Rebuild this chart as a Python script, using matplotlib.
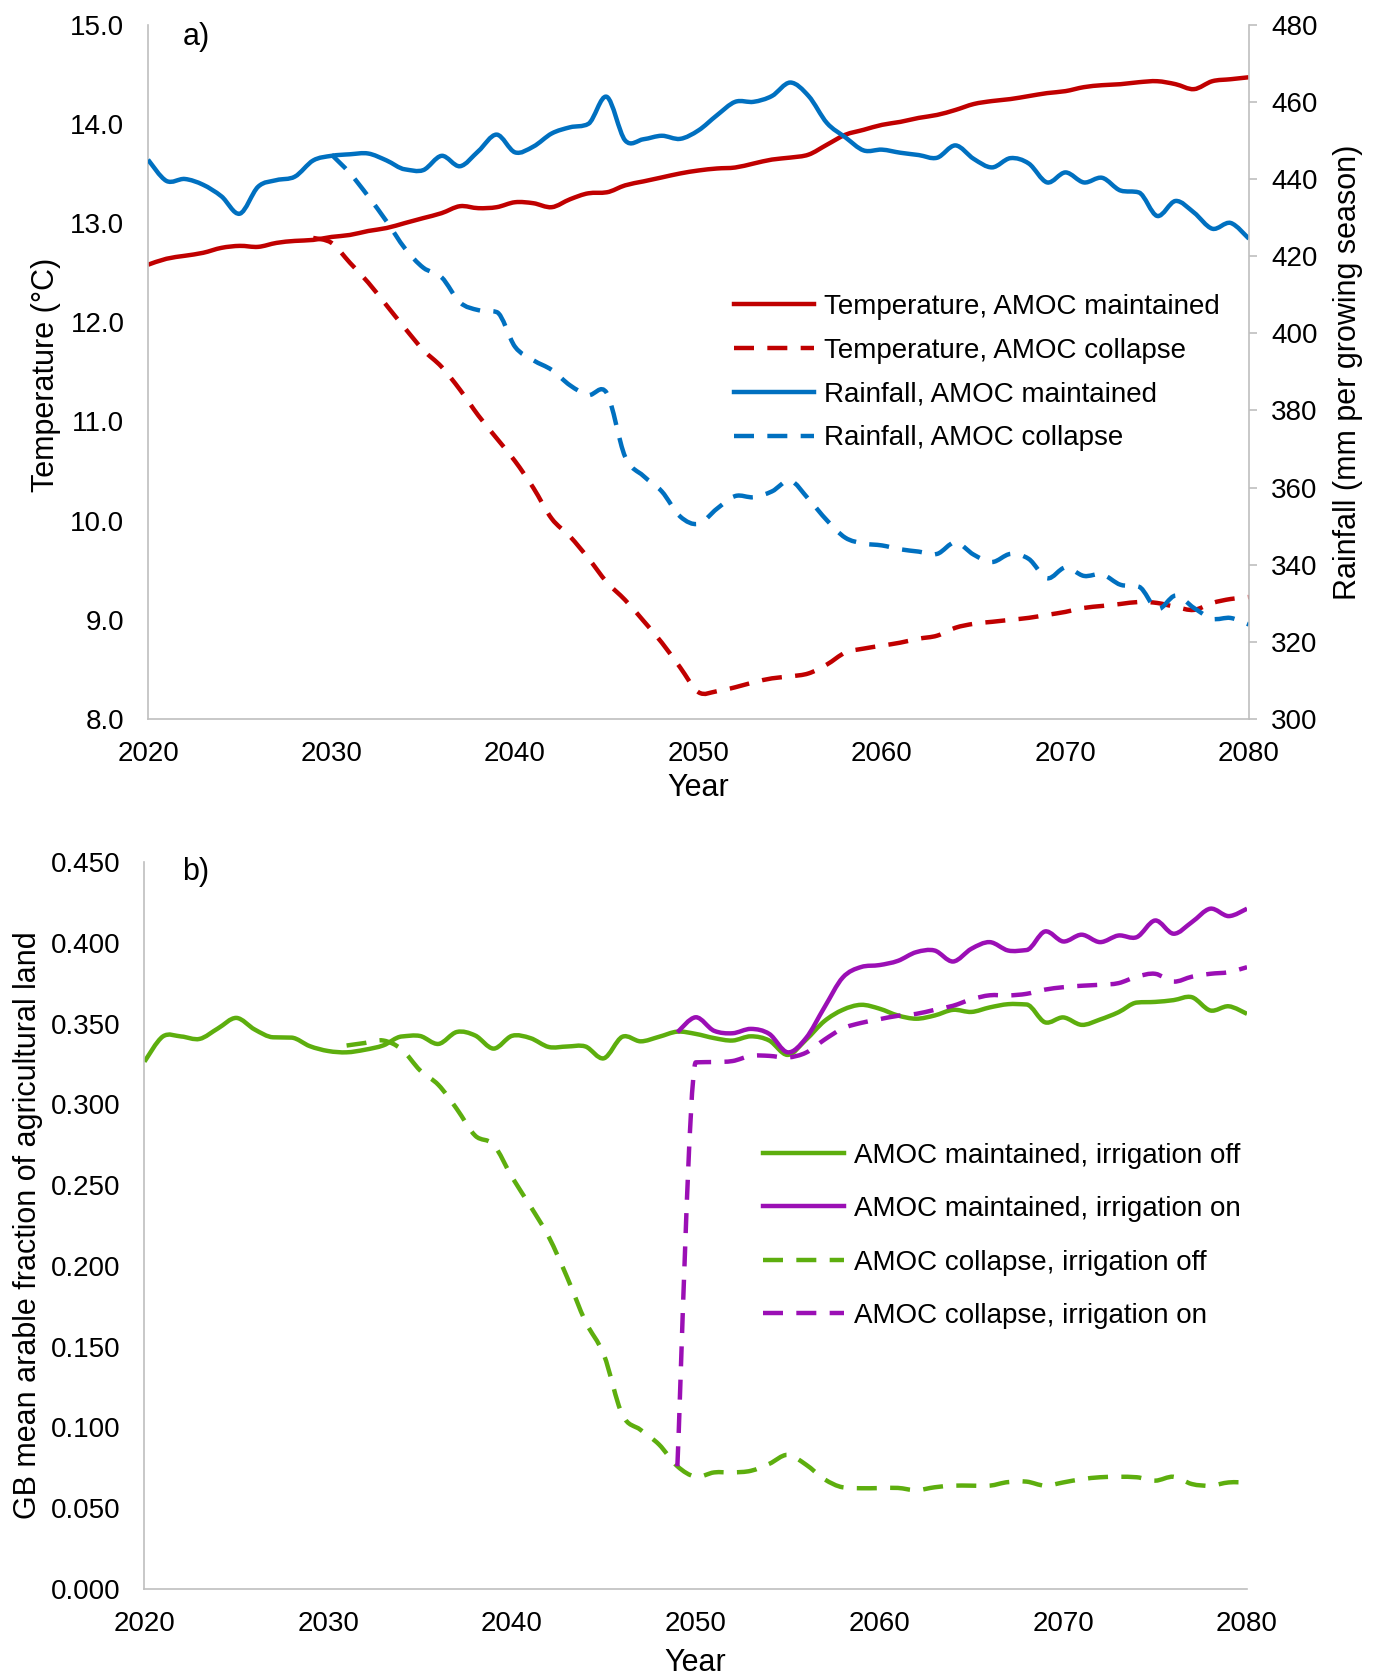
import matplotlib
matplotlib.use("Agg")
import matplotlib.pyplot as plt
import numpy as np
from matplotlib.lines import Line2D
from matplotlib.patches import PathPatch
from matplotlib.path import Path

plt.rcParams["font.family"] = ["Liberation Sans", "DejaVu Sans"]
plt.rcParams["font.size"] = 20

RED = "#C00000"
BLUE = "#0070C0"
GREEN = "#5DAE0E"
PURPLE = "#9B0FB5"
GREY = "#BFBFBF"
LW = 3.2
DASH = (4.5, 3)
LABEL_SIZE = 22

# panel a: temperature (degC) and growing-season rainfall (mm)
years_full = list(range(2020, 2081))
temp_maintained = [
    12.58, 12.64, 12.67, 12.70, 12.75, 12.77, 12.76, 12.80, 12.82, 12.83,
    12.86, 12.88, 12.92, 12.95, 13.00, 13.05, 13.10, 13.17, 13.15, 13.16,
    13.21, 13.20, 13.16, 13.24, 13.30, 13.31, 13.38, 13.42, 13.46, 13.50,
    13.53, 13.55, 13.56, 13.60, 13.64, 13.66, 13.69, 13.79, 13.89, 13.94,
    13.99, 14.02, 14.06, 14.09, 14.14, 14.20, 14.23, 14.25, 14.28, 14.31,
    14.33, 14.37, 14.39, 14.40, 14.42, 14.43, 14.40, 14.35, 14.43, 14.45,
    14.47,
]
years_temp_collapse = list(range(2029, 2081))
temp_collapse = [
    12.85, 12.80, 12.60, 12.40, 12.17, 11.94, 11.72, 11.55, 11.32, 11.06,
    10.83, 10.60, 10.33, 10.02, 9.84, 9.62, 9.38, 9.20, 8.99, 8.77,
    8.52, 8.27, 8.28, 8.32, 8.37, 8.41, 8.43, 8.46, 8.55, 8.67,
    8.71, 8.74, 8.77, 8.81, 8.84, 8.92, 8.96, 8.98, 9.00, 9.02,
    9.05, 9.08, 9.12, 9.14, 9.16, 9.18, 9.17, 9.13, 9.10, 9.17,
    9.21, 9.23,
]
rain_maintained = [
    445.0, 439.5, 440.0, 438.5, 435.5, 431.0, 438.0, 439.7, 440.6, 444.8,
    446.0, 446.4, 446.6, 444.8, 442.5, 442.3, 446.0, 443.3, 447.2, 451.5,
    446.9, 448.4, 451.8, 453.4, 454.3, 461.3, 450.0, 450.3, 451.2, 450.4,
    452.6, 456.5, 460.0, 460.0, 461.5, 465.0, 461.5, 454.5, 450.8, 447.4,
    447.6, 446.8, 446.2, 445.5, 448.7, 445.2, 443.0, 445.4, 444.0, 439.1,
    441.7, 439.1, 440.3, 437.0, 436.5, 430.4, 434.3, 431.3, 427.1, 428.6,
    424.5,
]
years_rain_collapse = list(range(2030, 2081))
rain_collapse = [
    446.3, 441.5, 435.5, 429.0, 422.0, 417.0, 414.5, 408.0, 406.0, 405.5,
    396.5, 393.0, 390.5, 386.5, 384.0, 384.5, 368.0, 363.0, 359.0, 352.5,
    350.6, 354.5, 357.8, 357.5, 359.0, 361.8, 357.0, 351.5, 347.0, 345.5,
    345.0, 344.0, 343.4, 342.8, 345.8, 342.6, 340.7, 342.8, 341.5, 336.5,
    339.3, 337.1, 337.5, 334.8, 334.3, 328.5, 332.0, 328.8, 326.0, 326.2,
    324.5,
]

# panel b: GB mean arable fraction of agricultural land
arable_maint_off = [
    0.3264, 0.3420, 0.3420, 0.3405, 0.3470, 0.3535, 0.3463, 0.3415, 0.3413, 0.3360,
    0.3330, 0.3322, 0.3338, 0.3365, 0.3420, 0.3423, 0.3374, 0.3448, 0.3426, 0.3345,
    0.3424, 0.3410, 0.3355, 0.3358, 0.3358, 0.3285, 0.3418, 0.3390, 0.3418, 0.3450,
    0.3436, 0.3410, 0.3395, 0.3421, 0.3395, 0.3306, 0.3400, 0.3515, 0.3585, 0.3616,
    0.3592, 0.3550, 0.3530, 0.3550, 0.3585, 0.3572, 0.3600, 0.3620, 0.3618, 0.3508,
    0.3538, 0.3492, 0.3525, 0.3570, 0.3630, 0.3634, 0.3645, 0.3663, 0.3581, 0.3607,
    0.3560,
]
years_irrigation = list(range(2049, 2081))
arable_maint_on = [
    0.3446, 0.3539, 0.3455, 0.3440, 0.3467, 0.3436, 0.3322, 0.3410, 0.3600, 0.3785,
    0.3850, 0.3862, 0.3888, 0.3942, 0.3952, 0.3884, 0.3963, 0.4004, 0.3952, 0.3955,
    0.4070, 0.4008, 0.4050, 0.4004, 0.4045, 0.4035, 0.4138, 0.4056, 0.4128, 0.4211,
    0.4165, 0.4211,
]
years_arable_collapse = list(range(2031, 2081))
arable_coll_off = [
    0.3364, 0.3380, 0.3395, 0.3340, 0.3210, 0.3120, 0.2971, 0.2806, 0.2750, 0.2550,
    0.2370, 0.2180, 0.1930, 0.1655, 0.1450, 0.1080, 0.0985, 0.0895, 0.0760, 0.0695,
    0.0722, 0.0722, 0.0732, 0.0775, 0.0831, 0.0770, 0.0680, 0.0630, 0.0624, 0.0625,
    0.0626, 0.0612, 0.0630, 0.0640, 0.0640, 0.0640, 0.0662, 0.0665, 0.0640, 0.0660,
    0.0680, 0.0692, 0.0695, 0.0692, 0.0671, 0.0695, 0.0650, 0.0640, 0.0660, 0.0660,
]
arable_coll_on = [
    0.0760, 0.3260, 0.3262, 0.3268, 0.3300, 0.3300, 0.3290, 0.3320, 0.3400, 0.3470,
    0.3504, 0.3527, 0.3548, 0.3560, 0.3585, 0.3610, 0.3650, 0.3675, 0.3674, 0.3684,
    0.3710, 0.3725, 0.3734, 0.3740, 0.3750, 0.3790, 0.3808, 0.3760, 0.3790, 0.3808,
    0.3818, 0.3849,
]


def smooth_line(ax, xs, ys, color, dashed=False, label=None):
    # smoothed line like a spreadsheet chart: cubic Bezier segments through the points
    x = np.asarray(xs, dtype=float)
    y = np.asarray(ys, dtype=float)
    n = len(x)
    xp = np.concatenate([[x[0]], x, [x[-1]]])
    yp = np.concatenate([[y[0]], y, [y[-1]]])
    mx = (xp[2:] - xp[:-2]) / 2
    my = (yp[2:] - yp[:-2]) / 2
    # keep big jumps from overshooting into the flat part next to them
    for i in range(1, n - 1):
        dl = y[i] - y[i - 1]
        dr = y[i + 1] - y[i]
        if dl * dr > 0:
            my[i] = np.sign(my[i]) * min(abs(my[i]), 3 * min(abs(dl), abs(dr)))
    verts = [(x[0], y[0])]
    codes = [Path.MOVETO]
    for i in range(n - 1):
        verts += [(x[i] + mx[i] / 3, y[i] + my[i] / 3),
                  (x[i + 1] - mx[i + 1] / 3, y[i + 1] - my[i + 1] / 3),
                  (x[i + 1], y[i + 1])]
        codes += [Path.CURVE4] * 3
    style = (0, DASH) if dashed else "solid"
    patch = PathPatch(Path(verts, codes), fill=False, edgecolor=color, lw=LW,
                      linestyle=style, capstyle="butt", joinstyle="round")
    ax.add_patch(patch)
    return Line2D([], [], color=color, lw=LW, linestyle=style, label=label)


def style_axis(ax):
    for side in ["top", "right"]:
        ax.spines[side].set_visible(False)
    for side in ["left", "bottom"]:
        ax.spines[side].set_color(GREY)
        ax.spines[side].set_linewidth(1.2)
    ax.tick_params(axis="y", length=0, labelsize=20, pad=17)
    ax.tick_params(axis="x", length=0, labelsize=20, pad=16)
    ax.set_xlim(2020, 2080)
    ax.set_xticks(range(2020, 2081, 10))


fig = plt.figure(figsize=(13.81, 16.78), dpi=100)

# ---- panel a ----
ax_a = fig.add_axes([0.1072, 0.5715, 0.7972, 0.4138])
style_axis(ax_a)
ax_a.set_ylim(8, 15)
ax_a.set_yticks(np.arange(8, 15.01, 1.0))
ax_a.yaxis.set_major_formatter(matplotlib.ticker.FormatStrFormatter("%.1f"))

ax_r = ax_a.twinx()
ax_r.set_ylim(300, 480)
ax_r.set_yticks(range(300, 481, 20))
for side in ["top", "left", "bottom"]:
    ax_r.spines[side].set_visible(False)
ax_r.spines["right"].set_color(GREY)
ax_r.spines["right"].set_linewidth(1.2)
ax_r.tick_params(axis="y", length=6, width=1.2, color=GREY, labelsize=20, pad=10)

l1 = smooth_line(ax_a, years_full, temp_maintained, RED,
                 label="Temperature, AMOC maintained")
l2 = smooth_line(ax_a, years_temp_collapse, temp_collapse, RED, dashed=True,
                 label="Temperature, AMOC collapse")
l3 = smooth_line(ax_r, years_full, rain_maintained, BLUE,
                 label="Rainfall, AMOC maintained")
l4 = smooth_line(ax_r, years_rain_collapse, rain_collapse, BLUE, dashed=True,
                 label="Rainfall, AMOC collapse")

ax_a.set_ylabel("Temperature (\u00b0C)", fontsize=LABEL_SIZE, va="center")
ax_a.yaxis.set_label_coords(-0.093, 0.495)
ax_r.set_ylabel("Rainfall (mm per growing season)", fontsize=LABEL_SIZE, va="center")
ax_r.yaxis.set_label_coords(1.090, 0.5)
ax_a.set_xlabel("Year", fontsize=LABEL_SIZE, va="center")
ax_a.xaxis.set_label_coords(0.4995, -0.1)
ax_a.text(0.0436, 0.982, "a)", transform=ax_a.transAxes, fontsize=LABEL_SIZE,
          ha="center", va="center")

ax_r.legend(handles=[l1, l2, l3, l4], loc="upper left",
            bbox_to_anchor=(0.532, 0.612), frameon=False, fontsize=20,
            handlelength=2.9, handletextpad=0.36, labelspacing=0.64,
            borderpad=0, borderaxespad=0)

# ---- panel b ----
ax_b = fig.add_axes([0.1046, 0.053, 0.7984, 0.4333])
style_axis(ax_b)
ax_b.set_ylim(0, 0.45)
ax_b.set_yticks(np.arange(0, 0.4501, 0.05))
ax_b.yaxis.set_major_formatter(matplotlib.ticker.FormatStrFormatter("%.3f"))

m1 = smooth_line(ax_b, years_full, arable_maint_off, GREEN,
                 label="AMOC maintained, irrigation off")
m2 = smooth_line(ax_b, years_irrigation, arable_maint_on, PURPLE,
                 label="AMOC maintained, irrigation on")
m3 = smooth_line(ax_b, years_arable_collapse, arable_coll_off, GREEN, dashed=True,
                 label="AMOC collapse, irrigation off")
m4 = smooth_line(ax_b, years_irrigation, arable_coll_on, PURPLE, dashed=True,
                 label="AMOC collapse, irrigation on")

ax_b.set_ylabel("GB mean arable fraction of agricultural land", fontsize=LABEL_SIZE,
                va="center")
ax_b.yaxis.set_label_coords(-0.106, 0.5)
ax_b.set_xlabel("Year", fontsize=LABEL_SIZE, va="center")
ax_b.xaxis.set_label_coords(0.4995, -0.102)
ax_b.text(0.0467, 0.986, "b)", transform=ax_b.transAxes, fontsize=LABEL_SIZE,
          ha="center", va="center")

ax_b.legend(handles=[m1, m2, m3, m4], loc="upper left",
            bbox_to_anchor=(0.561, 0.614), frameon=False, fontsize=20,
            handlelength=2.9, handletextpad=0.36, labelspacing=0.99,
            borderpad=0, borderaxespad=0)

fig.savefig("out.png", dpi=100)
